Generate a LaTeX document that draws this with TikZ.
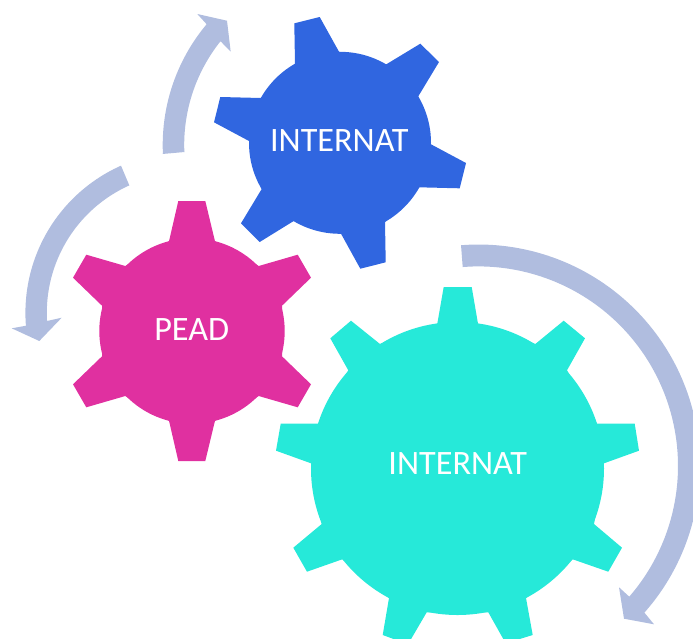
\documentclass[tikz,border=0pt]{standalone}
\usepackage{fontspec}
\setmainfont{Carlito}
\definecolor{gearblue}{RGB}{48,102,224}
\definecolor{gearpink}{RGB}{224,48,160}
\definecolor{gearcyan}{RGB}{38,233,217}
\definecolor{arrowblue}{RGB}{176,189,223}
\tikzset{
  gearlabel/.style={text=white,inner sep=0pt,font=\fontsize{34.2}{34.2}\selectfont},
  cyclearrow/.style={fill=arrowblue,draw=none},
  arcpts/.style={domain=#1,samples=50,smooth}
}
\begin{document}
\begin{tikzpicture}[x=1pt,y=-1pt]
\path[use as bounding box,clip] (0,0) rectangle (693,638);
% blue gear
\fill[gearblue] (340,142.8) circle[radius=91pt];
\fill[gearblue] (295,64)--(294.3,23.3)--(319.7,17)--(339,51.7)
  --(386.3,64.3)--(420.3,43.7)--(439,62)--(418.3,96.3)
  --(431,144.3)--(466,163)--(459.7,188.3)--(419,187.3)
  --(385,222)--(385.7,262.3)--(360.3,268.7)--(341,233.7)
  --(293.7,221)--(259.7,242)--(241,223.3)--(261.7,189)
  --(249,141)--(214,122.3)--(220.3,97)--(261,98)--cycle;
% pink gear
\fill[gearpink] (192,331) circle[radius=92.7pt];
\fill[gearpink] (169,241.3)--(178.3,201)--(205.3,201)--(215,241.3)
  --(258.7,266)--(297.7,254.7)--(311,277.7)--(282,305.7)
  --(282,356.3)--(311,384.3)--(297.7,407.3)--(258.7,396)
  --(215,420.7)--(205.3,461)--(178.3,461)--(169,420.7)
  --(125.3,396)--(86.3,407.3)--(73,384.3)--(102,356.3)
  --(102,305.7)--(73,277.7)--(86.3,254.7)--(125.3,266)--cycle;
% cyan gear
\fill[gearcyan] (457.5,468.5) circle[radius=146.5pt];
\fill[gearcyan] (437.3,323.7)--(443.7,287)--(471.7,287)--(478,323.7)
  --(535.3,344)--(563.7,320.7)--(585,338.3)--(567,370.3)
  --(597,423.7)--(634.7,423.7)--(639,450.7)--(604,463.3)
  --(594,524)--(622,547.7)--(608.3,571.7)--(572.7,559.3)
  --(526,598)--(532.7,635)--(505.7,643.3)--(488.3,612.3)
  --(426.7,612.3)--(408,644.3)--(382.7,635)--(389,598)
  --(342.3,559.3)--(307,571.7)--(293.3,547.7)--(321.7,524)
  --(311,463.3)--(276,450.7)--(280.7,423.7)--(318.7,423.7)
  --(348.3,370.3)--(330.3,338.3)--(351,320.7)--(380,344)--cycle;
% big arrow
\fill[cyclearrow] (461,245)
  -- plot[arcpts=-94.5:41] ({478.4+221.5*cos(\x)},{466+221.5*sin(\x)})
  -- (644.3,612.5)--(654,624.3)--(624,618.7)--(619,587.3)--(629.3,596.7)
  -- plot[arcpts=41:-94.5] ({478.4+199.6*cos(\x)},{466+199.6*sin(\x)})
  -- (462.7,267) -- cycle;
% upper arrow
\fill[cyclearrow] (162.3,154)
  -- plot[arcpts=177.3:220] ({350.7+188*cos(\x)},{145+188*sin(\x)})
  -- (206.7,24.3)--(197.3,14)--(227,20.7)--(230.7,51.7)--(221,41.7)
  -- plot[arcpts=218.5:177.6] ({350.7+166.5*cos(\x)},{145+166.5*sin(\x)})
  -- (184.7,152) -- cycle;
% left arrow
\fill[cyclearrow] (121,165.7)
  -- plot[arcpts=-114:-184.6] ({186.6+161.2*cos(\x)},{312.9+161.2*sin(\x)})
  -- (26,325.7)--(11.7,328.3)--(39.3,341)--(61.7,317.7)--(47,321)
  -- plot[arcpts=-183.3:-114.2] ({186.6+139.8*cos(\x)},{312.9+139.8*sin(\x)})
  -- (129.3,185.3) -- cycle;
% labels
\node[gearlabel] (lblblue) at (339.3,141) {INTERNAT};
\node[gearlabel] (lblpink) at (191.7,330) {PEAD};
\node[gearlabel] (lblcyan) at (457.7,464) {INTERNAT};
\end{tikzpicture}
\end{document}
